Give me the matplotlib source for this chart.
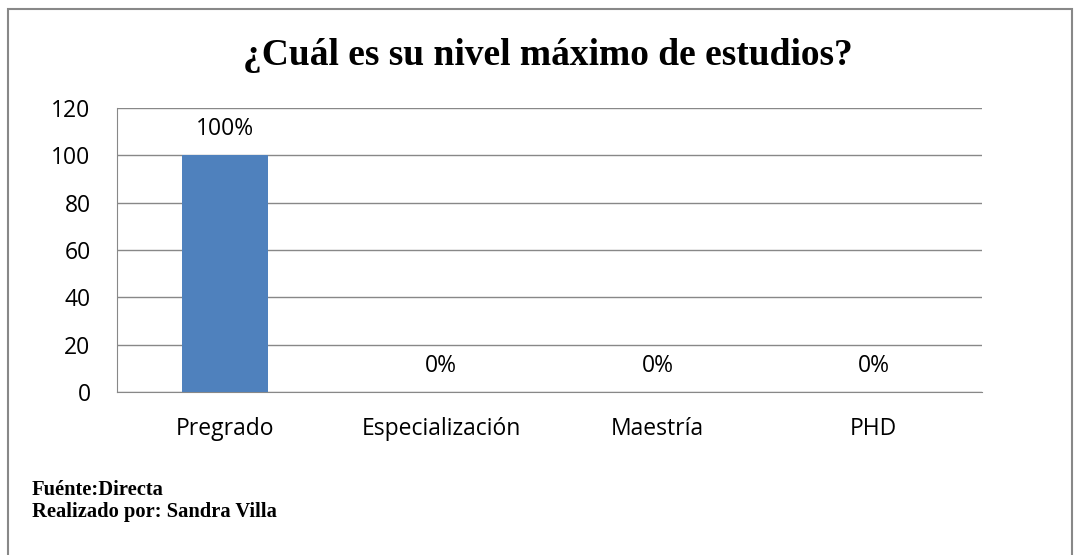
import matplotlib.pyplot as plt
from matplotlib.patches import Rectangle

categories = ["Pregrado", "Especialización", "Maestría", "PHD"]
values = [100, 0, 0, 0]
labels = ["100%", "0%", "0%", "0%"]
yticks = [0, 20, 40, 60, 80, 100, 120]

W, H = 1074, 555
fig = plt.figure(figsize=(W / 100, H / 100), dpi=100)

# outer chart border (runs off right and bottom)
fig.patches.append(Rectangle((8 / W, -0.01), (1072 - 8) / W, 1 - 9 / H + 0.01,
                             transform=fig.transFigure, fill=False,
                             edgecolor="#888888", linewidth=1.5))

ax = fig.add_axes([117 / W, 1 - 392 / H, (982 - 117) / W, (392 - 108) / H])

x = range(len(categories))
ax.bar(x, values, width=0.4, color="#4F81BD", zorder=3)
ax.set_xlim(-0.5, len(categories) - 0.5)
ax.set_ylim(0, 120)
ax.set_yticks(yticks)
ax.set_xticks(list(x))
ax.set_xticklabels(categories)
ax.tick_params(length=0, labelsize=16.5)
ax.tick_params(axis="y", pad=19)
ax.tick_params(axis="x", pad=18)
for t in ax.get_xticklabels() + ax.get_yticklabels():
    t.set_family("Open Sans")

ax.grid(axis="y", color="#888888", linewidth=1, zorder=0)
for s in ["top", "right"]:
    ax.spines[s].set_visible(False)
ax.spines["left"].set_color("#888888")
ax.spines["bottom"].set_color("#888888")

for i, (v, lab) in enumerate(zip(values, labels)):
    ax.annotate(lab, (i, v), xytext=(0, 14.4), textcoords="offset points",
                ha="center", va="baseline", fontsize=16.5, family="Open Sans")

fig.text(548 / W, 1 - 65 / H, "¿Cuál es su nivel máximo de estudios?", ha="center", va="baseline",
         fontsize=27, fontweight="bold", family="Liberation Serif")
fig.text(32 / W, 1 - 495 / H, "Fuénte:Directa", ha="left", va="baseline",
         fontsize=14.8, fontweight="bold", family="Liberation Serif")
fig.text(32 / W, 1 - 517 / H, "Realizado por: Sandra Villa", ha="left", va="baseline",
         fontsize=14.8, fontweight="bold", family="Liberation Serif")

fig.savefig("out.png", dpi=100)
